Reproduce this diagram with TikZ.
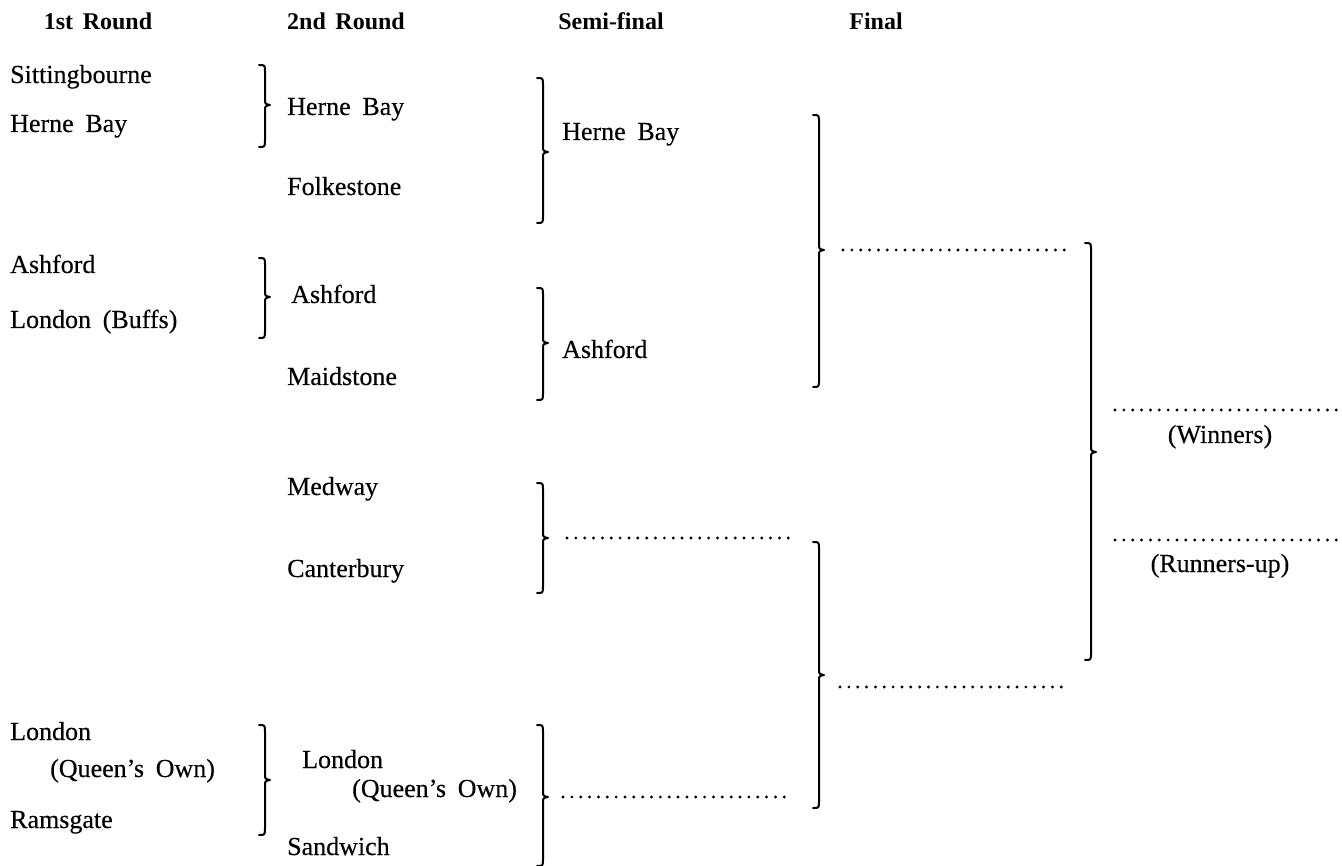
\documentclass[tikz,border=0pt]{standalone}
\usepackage{fontspec}
\setmainfont{Liberation Serif}
\newfontfamily\bodyfont[FakeBold=0.3]{Liberation Serif}
\newcommand\kbrace[4]{%
  \draw[brc] (#1-6,#2) .. controls (#1,#2) .. (#1,#2+7) -- (#1,#3-6)
    .. controls (#1,#3-1) .. (#1+5,#3) .. controls (#1,#3+1) .. (#1,#3+6)
    -- (#1,#4-7) .. controls (#1,#4) .. (#1-6,#4);}
\newcommand\widesp{\spaceskip=0.45em\relax}
\newcommand\hdsp{\spaceskip=0.4em\relax}
\begin{document}
\begin{tikzpicture}[x=1pt,y=-1pt,
  txt/.style={anchor=base west,inner sep=0pt,font=\bodyfont\fontsize{26}{30}\selectfont\widesp},
  lbl/.style={anchor=base,inner sep=0pt,font=\bodyfont\fontsize{26}{30}\selectfont},
  hd/.style={anchor=base,inner sep=0pt,font=\fontsize{24}{28}\selectfont\bfseries\hdsp},
  brc/.style={line width=2pt,line cap=round,line join=round},
  dots/.style={line width=3.2pt,line cap=round,dash pattern=on 0pt off 8.85pt}]
\useasboundingbox (0,0) rectangle (1342,866);
% headers
\node[hd] (h1) at (98,30) {1st Round};
\node[hd] (h2) at (346,30) {2nd Round};
\node[hd] (h3) at (611,30) {Semi-final};
\node[hd] (h4) at (876,30) {Final};
% 1st round
\node[txt] (a1) at (10,83) {Sittingbourne};
\node[txt] (a2) at (10,132) {Herne Bay};
\node[txt] (a3) at (10,273) {Ashford};
\node[txt] (a4) at (10,328) {London (Buffs)};
\node[txt] (a5) at (10,740) {London};
\node[txt] (a6) at (50,777) {(Queen’s Own)};
\node[txt] (a7) at (10,828) {Ramsgate};
% 2nd round
\node[txt] (b1) at (287,115) {Herne Bay};
\node[txt] (b2) at (287,195) {Folkestone};
\node[txt] (b3) at (291,303) {Ashford};
\node[txt] (b4) at (287,385) {Maidstone};
\node[txt] (b5) at (287,495) {Medway};
\node[txt] (b6) at (287,577) {Canterbury};
\node[txt] (b7) at (302,768) {London};
\node[txt] (b8) at (352,797) {(Queen’s Own)};
\node[txt] (b9) at (287,855) {Sandwich};
% semi-final
\node[txt] (c1) at (562,140) {Herne Bay};
\node[txt] (c2) at (562,358) {Ashford};
% braces
\kbrace{265}{65}{105}{147}
\kbrace{265}{258}{297}{338}
\kbrace{265}{725}{780}{835}
\kbrace{543}{78}{152}{223}
\kbrace{543}{288}{343}{400}
\kbrace{543}{483}{538}{593}
\kbrace{543}{725}{797}{866}
\kbrace{819}{115}{250}{387}
\kbrace{819}{542}{675}{808}
\kbrace{1091}{243}{452}{660}
% dotted result lines
\coordinate (s3a) at (567,538); \coordinate (s3b) at (789,538);
\coordinate (s4a) at (563,797); \coordinate (s4b) at (789,797);
\coordinate (f1a) at (843,250); \coordinate (f1b) at (1065,250);
\coordinate (f2a) at (840,687); \coordinate (f2b) at (1064,687);
\coordinate (wa) at (1115,410); \coordinate (wb) at (1340,410);
\coordinate (ra) at (1115,540); \coordinate (rb) at (1340,540);
\draw[dots] (s3a) -- (s3b);
\draw[dots] (s4a) -- (s4b);
\draw[dots] (f1a) -- (f1b);
\draw[dots] (f2a) -- (f2b);
\draw[dots] (wa) -- (wb);
\draw[dots] (ra) -- (rb);
\node[lbl] (win) at (1220,443) {(Winners)};
\node[lbl] (run) at (1220,572) {(Runners-up)};
\end{tikzpicture}
\end{document}
